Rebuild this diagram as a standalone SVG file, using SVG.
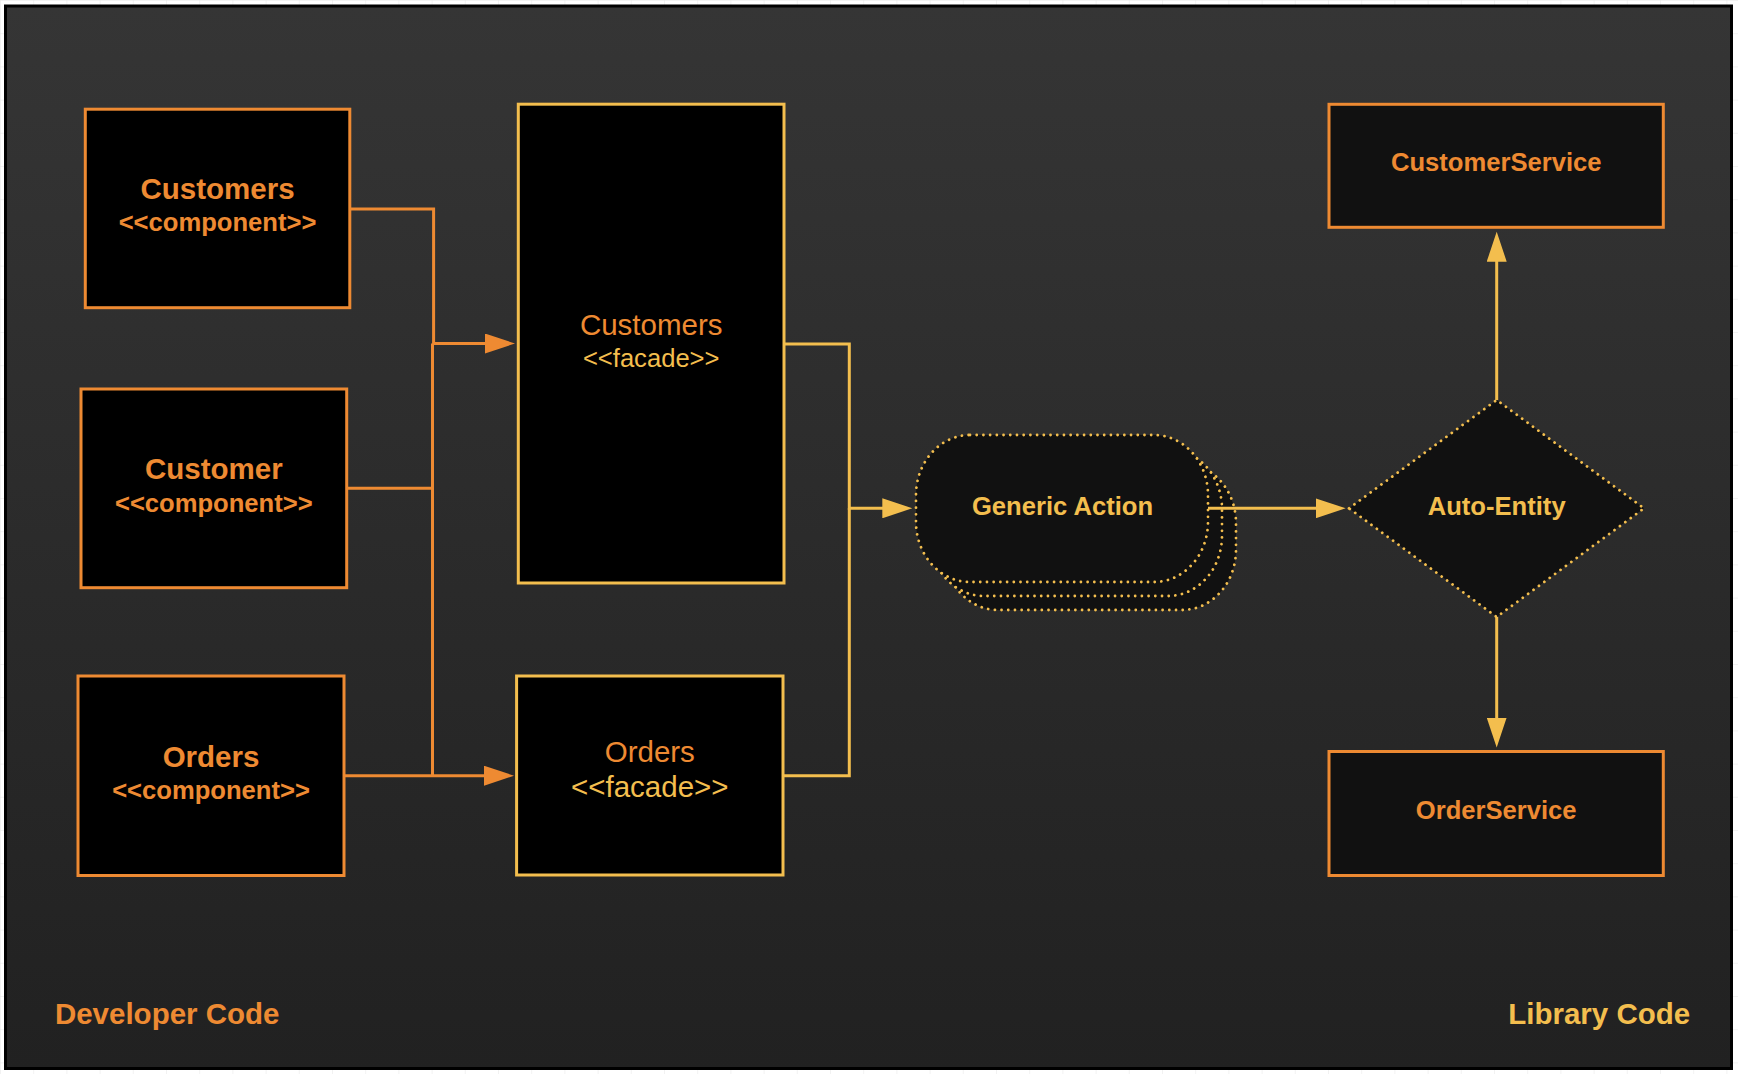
<svg xmlns="http://www.w3.org/2000/svg" width="1738" height="1074" viewBox="0 0 1738 1074">
  <defs>
    <linearGradient id="bg" x1="0" y1="0" x2="0" y2="1">
      <stop offset="0" stop-color="#353535"/>
      <stop offset="1" stop-color="#212121"/>
    </linearGradient>
    <pattern id="grid" width="33.2" height="33.2" patternUnits="userSpaceOnUse">
      <path d="M0,0 V33.2 M0,0 H33.2" fill="none" stroke="#e6e6e6" stroke-width="1"/>
    </pattern>
    <marker id="arrO" markerUnits="userSpaceOnUse" markerWidth="31" markerHeight="20" refX="1" refY="10" orient="auto">
      <path d="M0,0 L30,10 L0,20 z" fill="#EE8A32"/>
    </marker>
    <marker id="arrY" markerUnits="userSpaceOnUse" markerWidth="31" markerHeight="20" refX="1" refY="10" orient="auto">
      <path d="M0,0 L30,10 L0,20 z" fill="#F3BE4E"/>
    </marker>
  </defs>
  <style>
    .comp { fill: #000; stroke: #EE8A32; stroke-width: 3; }
    .fac { fill: #000; stroke: #F3BE4E; stroke-width: 3; }
    .svc { fill: #111; stroke: #EE8A32; stroke-width: 3; }
    .dot { fill: #111; stroke: #F3BE4E; stroke-width: 2.8; stroke-dasharray: 0.01 6.7; stroke-linecap: round; }
    .eo { fill: none; stroke: #EE8A32; stroke-width: 3; }
    .ey { fill: none; stroke: #F3BE4E; stroke-width: 3; }
    text { font-family: "Liberation Sans", Arial, sans-serif; text-anchor: middle; }
    .b { font-weight: bold; }
    .o { fill: #EE8A32; }
    .y { fill: #F3BE4E; }
    .f29 { font-size: 29.5px; }
    .f25 { font-size: 25.6px; }
  </style>

  <rect x="0" y="0" width="1738" height="1074" fill="#ffffff"/>
  <rect x="0" y="0" width="1738" height="1074" fill="url(#grid)"/>
  <rect id="frame" x="5.5" y="6" width="1726" height="1062.5" fill="url(#bg)" stroke="#000" stroke-width="3"/>

  <g id="connectors">
    <path class="eo" d="M350,209 H433.6 V343.5 H486" marker-end="url(#arrO)"/>
    <path class="eo" d="M347,488.3 H432.5 V343.5"/>
    <path class="eo" d="M432.5,488.3 V775.7"/>
    <path class="eo" d="M344,775.7 H485" marker-end="url(#arrO)"/>
    <path class="ey" d="M784,344 H849.3 V508.3 H883.3" marker-end="url(#arrY)"/>
    <path class="ey" d="M783,775.7 H849.3 V508.3"/>
  </g>

  <g id="customers-component">
    <rect class="comp" x="85.3" y="109.2" width="264.5" height="198.5"/>
    <text class="b o f29" x="217.5" y="199">Customers</text>
    <text class="b o f25" x="217.5" y="231">&lt;&lt;component&gt;&gt;</text>
  </g>
  <g id="customer-component">
    <rect class="comp" x="81" y="389" width="265.7" height="198.7"/>
    <text class="b o f29" x="213.8" y="479">Customer</text>
    <text class="b o f25" x="213.8" y="511.7">&lt;&lt;component&gt;&gt;</text>
  </g>
  <g id="orders-component">
    <rect class="comp" x="78" y="676" width="266" height="199.5"/>
    <text class="b o f29" x="211" y="766.5">Orders</text>
    <text class="b o f25" x="211" y="799">&lt;&lt;component&gt;&gt;</text>
  </g>

  <g id="customers-facade">
    <rect class="fac" x="518.3" y="104.2" width="265.7" height="478.8"/>
    <text class="o f29" x="651.2" y="335">Customers</text>
    <text class="y f25" x="651.2" y="367.3">&lt;&lt;facade&gt;&gt;</text>
  </g>
  <g id="orders-facade">
    <rect class="fac" x="516.6" y="676" width="266.4" height="199"/>
    <text class="o f29" x="649.8" y="762.3">Orders</text>
    <text class="y f29" x="649.8" y="797.3">&lt;&lt;facade&gt;&gt;</text>
  </g>

  <g id="generic-action">
    <rect class="dot" x="944" y="463" width="292" height="147" rx="54" ry="60"/>
    <rect class="dot" x="930" y="449" width="292" height="147" rx="54" ry="60"/>
    <rect class="dot" x="916" y="435" width="292" height="147" rx="54" ry="60"/>
    <text class="b y f25" x="1062.5" y="515">Generic Action</text>
  </g>

  <g id="connectors-right">
    <path class="ey" d="M1208,508.3 H1316.7" marker-end="url(#arrY)"/>
    <path class="ey" d="M1496.7,400 V260.7" marker-end="url(#arrY)"/>
    <path class="ey" d="M1496.7,617 V718.5" marker-end="url(#arrY)"/>
  </g>

  <g id="auto-entity">
    <polygon class="dot" points="1349,508.3 1496.7,400 1644,508.3 1496.7,617"/>
    <text class="b y f25" x="1496.7" y="515">Auto-Entity</text>
  </g>

  <g id="customer-service">
    <rect class="svc" x="1329" y="104.3" width="334.3" height="123"/>
    <text class="b o f25" x="1496.2" y="171">CustomerService</text>
  </g>
  <g id="order-service">
    <rect class="svc" x="1329" y="751.5" width="334.3" height="124"/>
    <text class="b o f25" x="1496.2" y="818.8">OrderService</text>
  </g>

  <g id="labels">
    <text class="b o f29" x="167.2" y="1024">Developer Code</text>
    <text class="b y f29" x="1599.2" y="1024">Library Code</text>
  </g>
</svg>
